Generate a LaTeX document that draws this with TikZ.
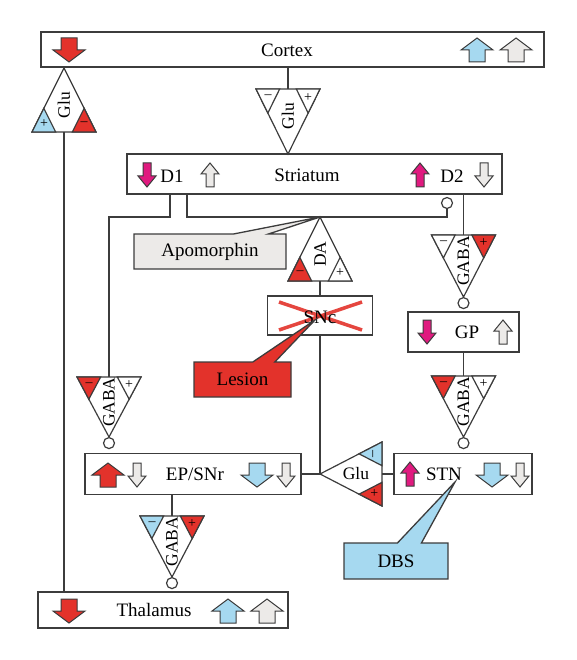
\documentclass[tikz,border=0pt]{standalone}
\usepackage{fontspec}
\setmainfont{Liberation Serif}
\usetikzlibrary{calc,positioning,shapes.callouts}
\definecolor{lesionred}{HTML}{E3322B}
\definecolor{dbsblue}{HTML}{A6D9F0}
\definecolor{apogray}{HTML}{ECEAE8}
\definecolor{dmagenta}{HTML}{E01A7F}
\definecolor{linegray}{HTML}{3C3C3C}
\tikzset{
  region/.style = {draw=linegray, line width=1.3pt, fill=white, inner sep=0pt},
  txt/.style = {font=\fontsize{19}{21}\selectfont, inner sep=0pt},
  trilabel/.style = {font=\fontsize{17.5}{19}\selectfont, inner sep=0pt},
  tri/.style = {draw=linegray, line width=1.2pt, line join=miter},
  sign/.style = {font=\fontsize{14}{14}\selectfont, inner sep=0pt},
  synapse/.style = {circle, draw=linegray, line width=1.2pt, fill=white,
    minimum size=11pt, inner sep=0pt},
  wire/.style = {draw=linegray, line width=1.3pt},
  arrowline/.style = {draw=linegray, line width=1pt, line join=miter},
  lesionx/.style = {draw=lesionred, line width=3.5pt, opacity=0.9},
  note/.style = {rectangle callout, draw=linegray, line width=1.3pt,
    font=\fontsize{19}{21}\selectfont, minimum height=35pt, inner sep=0pt},
  pics/bigarrow/.style = {code={\draw[arrowline, fill=#1] (0,-12) -- (16,0) -- (8,0)
    -- (8,12) -- (-8,12) -- (-8,0) -- (-16,0) -- cycle;}},
  pics/smallarrow/.style = {code={\draw[arrowline, fill=#1] (0,-12) -- (9,-1) -- (4,-1)
    -- (4,12) -- (-4,12) -- (-4,-1) -- (-9,-1) -- cycle;}}
}
% triangle: name, apex, corner 1, corner 2, text, text rotation
\newcommand{\transmitter}[6]{%
  \coordinate (#1-a) at (#2);
  \coordinate (#1-l) at (#3);
  \coordinate (#1-r) at (#4);
  \coordinate (#1-b) at ($(#1-l)!0.5!(#1-r)$);
  \draw[tri, fill=white] (#1-a) -- (#1-l) -- (#1-r) -- cycle;
  \node[trilabel, rotate=#6] (#1) at ($(#1-b)!0.42!(#1-a)$) {#5};}
% corner of a triangle: name, corner, apex, other corner, fill, sign
\newcommand{\cornermark}[6]{%
  \draw[tri, fill=#5] (#2) -- ($(#2)!0.37!(#3)$) -- ($(#2)!0.37!(#4)$) -- cycle;
  \node[sign] (#1) at ($(#2)!0.25!($(#3)!0.5!(#4)$)$) {#6};}
\begin{document}
\begin{tikzpicture}[x=1pt, y=-1pt]
  \useasboundingbox (0,0) rectangle (577,660);
  % regions
  \node[region, minimum width=503pt, minimum height=35pt] (cortex) at (292.5,49.5) {};
  \node[region, minimum width=375pt, minimum height=40pt] (striatum) at (314.5,174) {};
  \node[region, minimum width=105pt, minimum height=39pt] (snc) at (320,315.5) {};
  \node[region, minimum width=111pt, minimum height=40pt] (gp) at (463.5,332) {};
  \node[region, minimum width=216pt, minimum height=41pt] (epsnr) at (193,474) {};
  \node[region, minimum width=138pt, minimum height=41pt] (stn) at (463,474) {};
  \node[region, minimum width=250pt, minimum height=36pt] (thalamus) at (163,610) {};

  % transmitters
  \transmitter{glu1}{64,68}{32,132}{96,132}{Glu}{90}
  \cornermark{glu1-p}{glu1-l}{glu1-a}{glu1-r}{dbsblue}{+}
  \cornermark{glu1-m}{glu1-r}{glu1-a}{glu1-l}{lesionred}{–}
  \transmitter{glu2}{288,154}{256,89}{320,89}{Glu}{90}
  \cornermark{glu2-m}{glu2-l}{glu2-a}{glu2-r}{white}{–}
  \cornermark{glu2-p}{glu2-r}{glu2-a}{glu2-l}{white}{+}
  \transmitter{da}{320,217}{288,281}{352,281}{DA}{90}
  \cornermark{da-m}{da-l}{da-a}{da-r}{lesionred}{–}
  \cornermark{da-p}{da-r}{da-a}{da-l}{white}{+}
  \transmitter{gaba1}{109,437}{77,377}{141,377}{GABA}{90}
  \cornermark{gaba1-m}{gaba1-l}{gaba1-a}{gaba1-r}{lesionred}{–}
  \cornermark{gaba1-p}{gaba1-r}{gaba1-a}{gaba1-l}{white}{+}
  \transmitter{gaba2}{463.5,297}{431.5,235}{495.5,235}{GABA}{90}
  \cornermark{gaba2-m}{gaba2-l}{gaba2-a}{gaba2-r}{white}{–}
  \cornermark{gaba2-p}{gaba2-r}{gaba2-a}{gaba2-l}{lesionred}{+}
  \transmitter{gaba3}{463.5,437}{431.5,376}{495.5,376}{GABA}{90}
  \cornermark{gaba3-m}{gaba3-l}{gaba3-a}{gaba3-r}{lesionred}{–}
  \cornermark{gaba3-p}{gaba3-r}{gaba3-a}{gaba3-l}{white}{+}
  \transmitter{glu3}{320,474}{382,442}{382,506}{Glu}{0}
  \cornermark{glu3-m}{glu3-l}{glu3-a}{glu3-r}{dbsblue}{\rotatebox{90}{–}}
  \cornermark{glu3-p}{glu3-r}{glu3-a}{glu3-l}{lesionred}{+}
  \transmitter{gaba4}{172,577}{140,516}{204,516}{GABA}{90}
  \cornermark{gaba4-m}{gaba4-l}{gaba4-a}{gaba4-r}{dbsblue}{–}
  \cornermark{gaba4-p}{gaba4-r}{gaba4-a}{gaba4-l}{lesionred}{+}

  % synapses
  \node[synapse] (syn0) at (447,203) {};
  \node[synapse, below=0pt of gaba1-a] (syn1) {};
  \node[synapse, below=0pt of gaba2-a] (syn2) {};
  \node[synapse, below=0pt of gaba3-a] (syn3) {};
  \node[synapse, below=0pt of gaba4-a] (syn4) {};

  % connections
  \coordinate (d1out) at (170,194);
  \coordinate (d2out) at (187,194);
  \draw[wire] (glu2-b |- cortex.south) -- (glu2-b);
  \draw[wire] (glu1-b) -- (glu1-b |- thalamus.north);
  \draw[wire] (d1out) -- ++(0,23) -| (gaba1-b);
  \draw[wire] (d2out) -- ++(0,23) -| (syn0.south);
  \draw[wire] (gaba2-b |- striatum.south) -- (gaba2-b);
  \draw[wire] (gp.south) -- (gaba3-b);
  \draw[wire] (da-b) -- (snc.north);
  \draw[wire] (snc.south) -- (glu3-a);
  \draw[wire] (epsnr.east) -- (glu3-a);
  \draw[wire] (glu3-b) -- (stn.west);
  \draw[wire] (gaba4-b |- epsnr.south) -- (gaba4-b);

  % labels and arrows
  \node[txt] (cortex-t) at (287,50) {Cortex};
  \pic[rotate=180] at (69,50) {bigarrow=lesionred};
  \pic at (477,50) {bigarrow=dbsblue};
  \pic at (516,50) {bigarrow=apogray};

  \node[txt] (striatum-t) at (307,175) {Striatum};
  \pic[rotate=180] at (147,175) {smallarrow=dmagenta};
  \node[txt] (d1) at (172,176) {D1};
  \pic at (210,175) {smallarrow=apogray};
  \pic at (420,175) {smallarrow=dmagenta};
  \node[txt] (d2) at (452,176) {D2};
  \pic[rotate=180] at (484,175) {smallarrow=apogray};

  \draw[lesionx] (279,302) -- (362,330);
  \draw[lesionx] (279,330) -- (362,302);
  \node[txt] (snc-t) at (320,317) {SNc};

  \node[txt] (gp-t) at (467,332) {GP};
  \pic[rotate=180] at (427,332) {smallarrow=dmagenta};
  \pic at (503,332) {smallarrow=apogray};

  \node[txt] (epsnr-t) at (195,474) {EP/SNr};
  \pic at (108,475) {bigarrow=lesionred};
  \pic[rotate=180] at (137,475) {smallarrow=apogray};
  \pic[rotate=180] at (257,475) {bigarrow=dbsblue};
  \pic[rotate=180] at (286,475) {smallarrow=apogray};

  \node[txt] (stn-t) at (444,474) {STN};
  \pic at (410,474) {smallarrow=dmagenta};
  \pic[rotate=180] at (492,475) {bigarrow=dbsblue};
  \pic[rotate=180] at (520,475) {smallarrow=apogray};

  \node[txt] (thalamus-t) at (154,610) {Thalamus};
  \pic[rotate=180] at (69,611) {bigarrow=lesionred};
  \pic at (228,611) {bigarrow=dbsblue};
  \pic at (267,611) {bigarrow=apogray};

  % callouts
  \coordinate (lesion-tip) at (315,320);
  \coordinate (dbs-tip) at (455,482);
  \node[note, fill=apogray, minimum width=152pt, callout pointer width=35pt,
    callout absolute pointer={(da-a)}] (apomorphin) at (210,251.5) {Apomorphin};
  \node[note, fill=lesionred, minimum width=97pt, callout pointer width=22pt,
    callout absolute pointer={(lesion-tip)}] (lesion) at (242.5,379.5) {Lesion};
  \node[note, fill=dbsblue, minimum width=104pt, minimum height=36pt,
    callout pointer width=24pt, callout absolute pointer={(dbs-tip)}] (dbs) at (396,561) {DBS};
\end{tikzpicture}
\end{document}
